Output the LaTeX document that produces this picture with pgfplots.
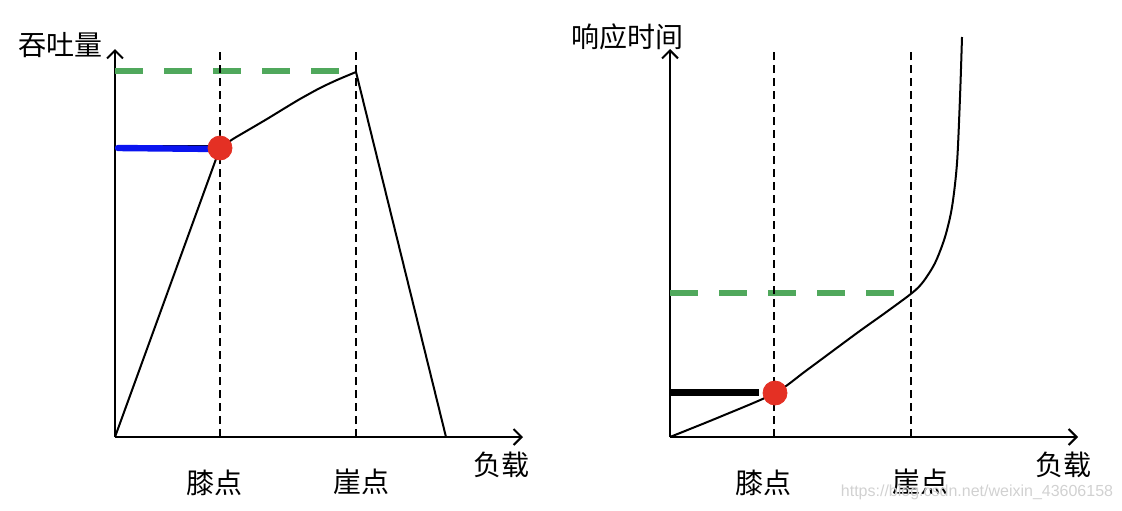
\documentclass[border=0pt]{standalone}
\usepackage{fontspec}
\setmainfont{Noto Sans CJK SC}
\newfontfamily\wmfont{Liberation Sans}
\usepackage{pgfplots}
\pgfplotsset{compat=1.18}
\usetikzlibrary{arrows.meta}

\definecolor{dotred}{RGB}{228,48,36}
\definecolor{lineblue}{RGB}{10,20,240}
\definecolor{dashgreen}{RGB}{80,168,92}

% 1 px of the reference = 0.5pt
\pgfplotsset{
  diagram/.style={
    x=0.5pt, y=0.5pt,
    xmin=0, xmax=408, ymin=0, ymax=388,
    anchor=south west,
    axis lines=left,
    axis line style={line width=1pt, -{Straight Barb[length=4pt,width=8pt,line width=1pt]}},
    xtick=\empty, ytick=\empty,
    clip=false,
  },
  vdash/.style={black, line width=1.1pt, dash pattern=on 4pt off 2.5pt},
  gdash/.style={dashgreen, line width=3pt, dash pattern=on 14pt off 10.5pt},
}

\begin{document}
\fontsize{14}{16}\selectfont
\begin{tikzpicture}
\useasboundingbox (0,0) rectangle (561pt,255pt);

% ---- throughput ----
\begin{axis}[diagram, at={(57.5pt,36.5pt)}]
\addplot[gdash] coordinates {(0,366) (224,366)};
\addplot[vdash] coordinates {(105,0) (105,385)};
\addplot[vdash] coordinates {(241,0) (241,385)};
\addplot[black, line width=1pt] coordinates {(0,0) (105,289)};
\addplot[black, line width=1pt, smooth, tension=0.4] coordinates {
  (105,289) (118,298) (135,308) (152,318) (170,329) (185,338) (205,349) (222,357) (241,365)};
\addplot[black, line width=1pt] coordinates {(241,365) (331,0)};
\addplot[black, line width=0.8pt] coordinates {(35,291.5) (98,291.5)};
\addplot[lineblue, line width=3.2pt, line cap=round] coordinates {(3,289) (103,288)};
\addplot[only marks, mark=*, mark size=6pt, dotred, mark options={draw=dotred}] coordinates {(105,289)};
\node at (axis cs:-54,392) {吞吐量};
\node at (axis cs:99,-46) {膝点};
\node at (axis cs:246,-45) {崖点};
\node at (axis cs:386,-28) {负载};
\end{axis}

% ---- response time ----
\begin{axis}[diagram, at={(335pt,36.5pt)}]
\addplot[gdash] coordinates {(0,144) (227,144)};
\addplot[vdash] coordinates {(104,0) (104,385)};
\addplot[vdash] coordinates {(241,0) (241,385)};
\addplot[black, line width=1pt, smooth, tension=0.5] coordinates {
  (0,0) (52,21) (105,44) (137,67) (187,104) (215,124) (242,144)
  (253,155) (265,174) (275,200) (282,230) (287,274) (290,340) (292,400)};
\addplot[black, line width=3.5pt] coordinates {(0,45) (89,45)};
\addplot[only marks, mark=*, mark size=6pt, dotred, mark options={draw=dotred}] coordinates {(105,44)};
\node at (axis cs:-43,400) {响应时间};
\node at (axis cs:93,-46) {膝点};
\node at (axis cs:250,-45) {崖点};
\node at (axis cs:393,-28) {负载};
\node[text=black!18, font=\wmfont\fontsize{8}{9}\selectfont] at (axis cs:307,-55) {https://blog.csdn.net/weixin\_43606158};
\end{axis}
\end{tikzpicture}
\end{document}
